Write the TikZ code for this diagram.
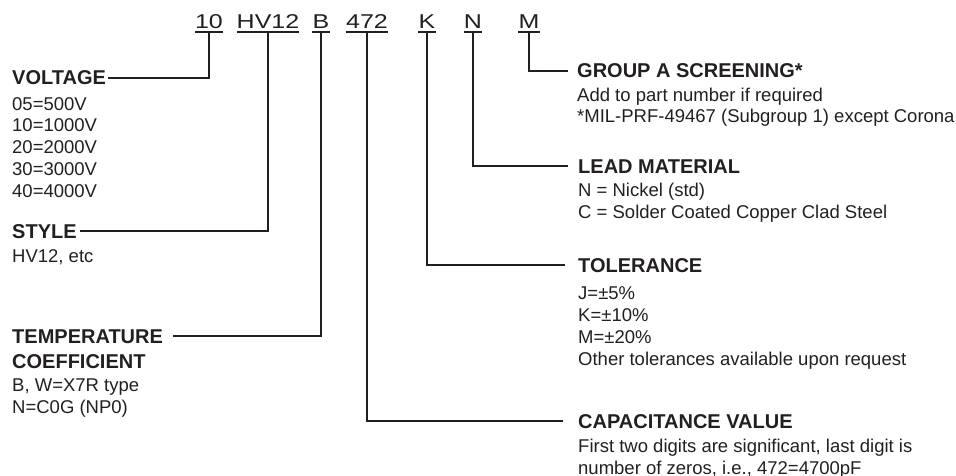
\documentclass[tikz,border=0pt]{standalone}
\usepackage{fontspec}
\setmainfont{Liberation Sans}
\newfontfamily\codefont[FakeStretch=1.25]{Liberation Sans}
\definecolor{ink}{HTML}{231F20}

\tikzset{
  code/.style={font=\codefont\fontsize{20}{24}\selectfont, inner xsep=0pt, inner ysep=3pt, text depth=0pt, anchor=base},
  head/.style={font=\fontsize{20}{24}\selectfont\bfseries, inner sep=0pt, anchor=base west},
  body/.style={font=\fontsize{18.5}{21.7}\selectfont, inner sep=0pt, align=left, anchor=base west},
  conn/.style={line width=2pt},
  uline/.style={line width=1.5pt},
}

\begin{document}
\begin{tikzpicture}[x=1pt,y=-1pt,ink]
\useasboundingbox (0,0) rectangle (956,476);

%part number
\node[code] (c10) at (209,29) {10};
\node[code] (cHV) at (268,29) {HV12};
\node[code] (cB) at (321,29) {B};
\node[code] (c472) at (367,29) {472};
\node[code] (cK) at (427,29) {K};
\node[code] (cN) at (473,29) {N};
\node[code] (cM) at (529,29) {M};
\foreach \n in {c10,cHV,cB,c472,cK,cN,cM}
  \draw[uline] (\n.south west) -- (\n.south east);

%left side (body nodes sit on their last baseline)
\node[head] (volt) at (12,85) {VOLTAGE};
\node[body] (voltb) at (12,197) {05=500V\\10=1000V\\20=2000V\\30=3000V\\40=4000V};
\node[head] (style) at (12,238) {STYLE};
\node[body] (styleb) at (12,262) {HV12, etc};
\node[head] (temp) at (12,343) {TEMPERATURE};
\node[head] (coef) at (12,368) {COEFFICIENT};
\node[body] (tempb) at (12,413) {B, W=X7R type\\N=C0G (NP0)};

%right side
\node[head] (grp) at (577,78) {GROUP A SCREENING*};
\node[body] (grpb) at (577,123) {Add to part number if required\\*MIL-PRF-49467 (Subgroup 1) except Corona};
\node[head] (lead) at (578,173) {LEAD MATERIAL};
\node[body] (leadb) at (578,218) {N = Nickel (std)\\C = Solder Coated Copper Clad Steel};
\node[head] (tol) at (578,272) {TOLERANCE};
\node[body] (tolb) at (578,365) {J=±5\%\\K=±10\%\\M=±20\%\\Other tolerances available upon request};
\node[head] (cap) at (578,428) {CAPACITANCE VALUE};
\node[body] (capb) at (578,474) {First two digits are significant, last digit is\\number of zeros, i.e., 472=4700pF};

%leaders
\draw[conn] (c10.south) |- ([xshift=2pt]volt.east);
\draw[conn] (cHV.south) |- ([xshift=3pt]style.east);
\draw[conn] (cB.south) |- ([xshift=10pt]temp.east);
\draw[conn] (c472.south) |- ([xshift=-15pt]cap.west);
\draw[conn] (cK.south) |- ([xshift=-13pt]tol.west);
\draw[conn] (cN.south) |- ([xshift=-10pt]lead.west);
\draw[conn] (cM.south) |- ([xshift=-9pt]grp.west);

\end{tikzpicture}
\end{document}
